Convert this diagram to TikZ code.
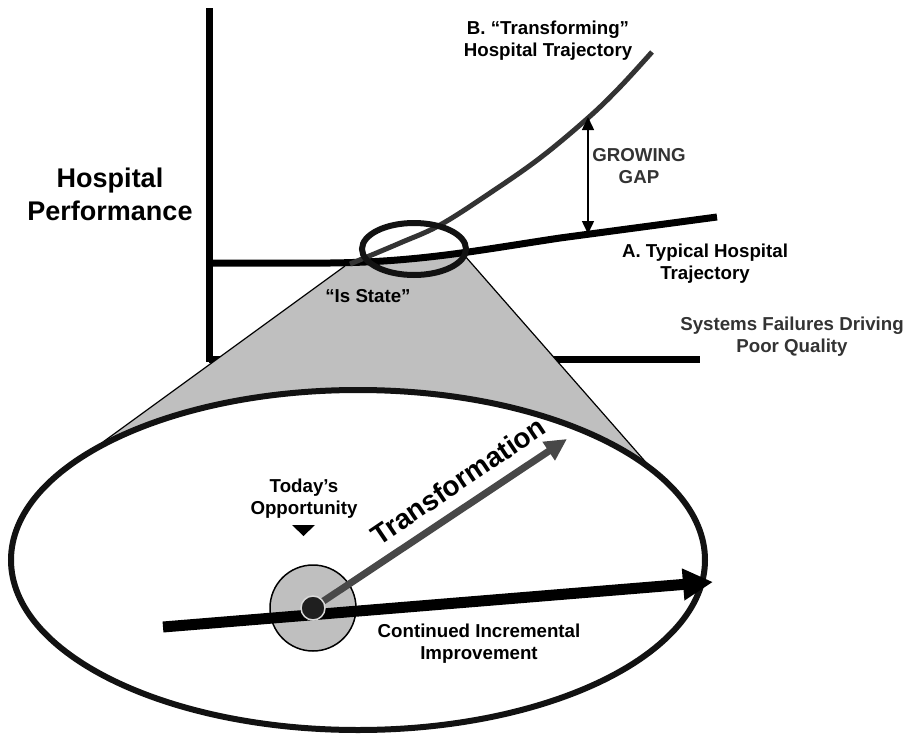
\documentclass[tikz,border=0pt]{standalone}
\usepackage{fontspec}
\setmainfont{Liberation Sans}
\usetikzlibrary{arrows.meta}
\definecolor{conegray}{HTML}{BFBFBF}
\definecolor{darkcurve}{HTML}{333333}
\definecolor{arrowgray}{HTML}{484848}
\tikzstyle{lbl}=[font=\fontsize{18.7}{22}\selectfont\bfseries, align=center, inner sep=0]
\tikzstyle{biglbl}=[font=\fontsize{27}{33}\selectfont\bfseries, align=center, inner sep=0]
\tikzstyle{graylbl}=[lbl, text=darkcurve]
\tikzstyle{thickline}=[line width=7pt]

\begin{document}
\begin{tikzpicture}[x=1pt, y=-1pt]
	\useasboundingbox (0,0) rectangle (906,734);

	% axes
	\draw[thickline] (209,359) -- (700,359);
	\draw[thickline] (209,8) -- (209,362);

	% zoom cone
	\fill[conegray] (345,266) -- (103,442) -- (358,560) -- (650,467) -- (465,256) -- cycle;
	\draw[line width=1.2pt] (345,266) -- (103,442);
	\draw[line width=1.2pt] (465,256) -- (650,467);
	\draw[line width=6pt, draw=black!93, fill=white] (358,560) ellipse [x radius=347, y radius=170];

	% trajectories
	\draw[thickline] (209,263) -- (330,263) .. controls (420,262) and (480,250) .. (560,238) -- (717,217);
	\draw[line width=5pt, darkcurve] plot [smooth, tension=0.6] coordinates {
		(350,264) (400,243) (440,225) (490,193) (540,158) (588,118) (620,87) (652,52)%
	};
	\draw[line width=6pt, draw=black!93] (414,249) ellipse [x radius=52, y radius=26];

	\coordinate (gaptop) at (588,117);
	\coordinate (gapbot) at (588,234);
	\draw[line width=1.5pt, {Triangle[length=13pt,width=12pt]}-{Triangle[length=13pt,width=12pt]}] (gapbot) -- (gaptop);

	% labels
	\node[biglbl] (perf) at (110,194) {Hospital\\Performance};
	\node[lbl] (trajB) at (548,41) {B. “Transforming”\\Hospital Trajectory};
	\node[graylbl] (gap) at (639,166) {GROWING\\GAP};
	\node[lbl] (trajA) at (705,264) {A. Typical Hospital\\Trajectory};
	\node[graylbl] (fail) at (792,337) {Systems Failures Driving\\Poor Quality};
	\node[lbl] (isstate) at (368,296) {“Is State”};

	% zoomed view
	\node[circle, draw, line width=1.5pt, fill=conegray, minimum size=86pt, inner sep=0] (opp) at (313,608) {};
	\coordinate (cistart) at (163,627);
	\coordinate (ciend) at (713,582);
	\draw[line width=11pt, -{Triangle[length=30pt,width=30pt]}] (cistart) -- (ciend);
	\coordinate (tfend) at (567,439);
	\draw[line width=7pt, arrowgray, -{Triangle[length=22pt,width=21pt]}] (opp.center) -- (tfend);
	\node[circle, draw=conegray!60, line width=1.5pt, fill=black!88, minimum size=24pt, inner sep=0] (now) at (opp.center) {};

	\node[lbl] (today) at (304,499) {Today’s\\Opportunity};
	\fill (292,525) -- (315,525) -- (303.5,536) -- cycle;
	\node[font=\fontsize{28}{33}\selectfont\bfseries, rotate=34] (tf) at (458,481) {Transformation};
	\node[lbl] (incr) at (479,644) {Continued Incremental\\Improvement};
\end{tikzpicture}
\end{document}
